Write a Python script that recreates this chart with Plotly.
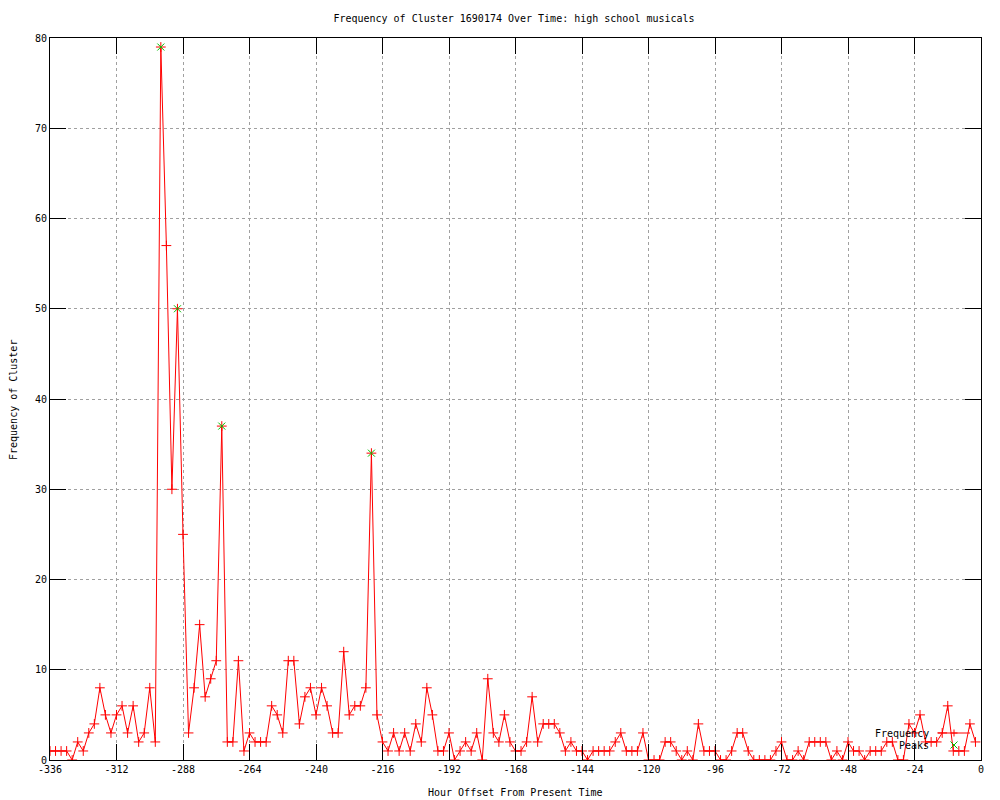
import plotly.graph_objects as go

# Hour offsets (every 2 hours) and cluster frequency values
hours = list(range(-336, 0, 2))
frequency = [
    1, 1, 1, 1, 0, 2, 1, 3, 4, 8,          # -336 .. -318
    5, 3, 5, 6, 3, 6, 2, 3, 8, 2,          # -316 .. -298
    79, 57, 30, 50, 25, 3, 8, 15, 7, 9,    # -296 .. -278
    11, 37, 2, 2, 11, 1, 3, 2, 2, 2,       # -276 .. -258
    6, 5, 3, 11, 11, 4, 7, 8, 5, 8,        # -256 .. -238
    6, 3, 3, 12, 5, 6, 6, 8, 34, 5,        # -236 .. -218
    2, 1, 3, 1, 3, 1, 4, 2, 8, 5,          # -216 .. -198
    1, 1, 3, 0, 1, 2, 1, 3, 0, 9,          # -196 .. -178
    3, 2, 5, 2, 1, 1, 2, 7, 2, 4,          # -176 .. -158
    4, 4, 3, 1, 2, 1, 1, 0, 1, 1,          # -156 .. -138
    1, 1, 2, 3, 1, 1, 1, 3, 0, 0,          # -136 .. -118
    0, 2, 2, 1, 0, 1, 0, 4, 1, 1,          # -116 .. -98
    1, 0, 0, 1, 3, 3, 1, 0, 0, 0,          # -96 .. -78
    0, 1, 2, 0, 0, 1, 0, 2, 2, 2,          # -76 .. -58
    2, 0, 1, 0, 2, 1, 1, 0, 1, 1,          # -56 .. -38
    1, 2, 2, 0, 0, 4, 3, 5, 2, 2,          # -36 .. -18
    2, 3, 6, 1, 1, 1, 4, 2,                # -16 .. -2
]

# Detected peaks
peak_hours = [-296, -290, -274, -220]
peak_values = [79, 50, 37, 34]

x_ticks = list(range(-336, 1, 24))
y_ticks = list(range(0, 81, 10))

title_text = "Frequency of Cluster 1690174 Over Time: high school musicals"
x_title = "Hour Offset From Present Time"
y_title = "Frequency of Cluster"

FONT = "DejaVu Sans Mono, Liberation Mono, monospace"
RED = "#ff0000"
GREEN = "#00c000"

# page body has an 8px margin; figure is sized so the plot lands where the reference has it
OFF = 8
W, H = 1000 - OFF, 800 - OFF
PL, PR, PT, PB = 50, 981, 38, 760          # plot-area edges in window pixels
pw, ph = PR - PL, PB - PT


def px(xw):
    return (xw - PL) / pw


def py(yw):
    return (PB - yw) / ph


fig = go.Figure()
fig.add_trace(go.Scatter(
    x=hours, y=frequency, mode="lines+markers", name="Frequency",
    line=dict(color=RED, width=1),
    marker=dict(symbol="cross-thin", size=7, color=RED, line=dict(color=RED, width=1)),
    showlegend=False,
))
fig.add_trace(go.Scatter(
    x=peak_hours, y=peak_values, mode="markers", name="Peaks",
    marker=dict(symbol="x-thin", size=7, color=GREEN, line=dict(color=GREEN, width=1)),
    showlegend=False,
))

axis_common = dict(
    showline=True, linecolor="black", linewidth=1, mirror="allticks",
    ticks="inside", ticklen=16, tickcolor="black", tickwidth=1,
    showgrid=True, gridcolor="#a0a0a0", griddash="dot", gridwidth=1,
    zeroline=False, tickfont=dict(family=FONT, size=10, color="black"),
)

fig.update_xaxes(range=[-336, 0], tickvals=x_ticks, ticktext=[str(v) for v in x_ticks], **axis_common)
fig.update_yaxes(range=[0, 80], tickvals=y_ticks, ticktext=[str(v) for v in y_ticks], **axis_common)

# Custom gnuplot-style key (text on the left, sample on the right)
shapes = []
leg_y1 = py(733)
leg_y2 = py(745)
lxm = px(954)
shapes.append(dict(type="line", xref="paper", yref="paper", x0=px(938), x1=px(970), y0=leg_y1, y1=leg_y1,
                   line=dict(color=RED, width=1)))
shapes.append(dict(type="line", xref="paper", yref="paper", xsizemode="pixel", ysizemode="pixel",
                   xanchor=lxm, yanchor=leg_y1, x0=-3.5, x1=3.5, y0=0, y1=0, line=dict(color=RED, width=1)))
shapes.append(dict(type="line", xref="paper", yref="paper", xsizemode="pixel", ysizemode="pixel",
                   xanchor=lxm, yanchor=leg_y1, x0=0, x1=0, y0=-3.5, y1=3.5, line=dict(color=RED, width=1)))
shapes.append(dict(type="line", xref="paper", yref="paper", xsizemode="pixel", ysizemode="pixel",
                   xanchor=lxm, yanchor=leg_y2, x0=-3.5, x1=3.5, y0=-3.5, y1=3.5, line=dict(color=GREEN, width=1)))
shapes.append(dict(type="line", xref="paper", yref="paper", xsizemode="pixel", ysizemode="pixel",
                   xanchor=lxm, yanchor=leg_y2, x0=-3.5, x1=3.5, y0=3.5, y1=-3.5, line=dict(color=GREEN, width=1)))

annotations = [
    dict(text="Frequency", xref="paper", yref="paper", x=px(931), y=leg_y1,
         xanchor="right", yanchor="middle", showarrow=False, font=dict(family=FONT, size=10, color="black")),
    dict(text="Peaks", xref="paper", yref="paper", x=px(931), y=leg_y2,
         xanchor="right", yanchor="middle", showarrow=False, font=dict(family=FONT, size=10, color="black")),
    dict(text=x_title, xref="paper", yref="paper", x=px(515), y=py(793),
         xanchor="center", yanchor="middle", showarrow=False, font=dict(family=FONT, size=10, color="black")),
    dict(text=y_title, xref="paper", yref="paper", x=px(13), y=py(400),
         xanchor="center", yanchor="middle", textangle=-90, showarrow=False,
         font=dict(family=FONT, size=10, color="black")),
]

fig.update_layout(
    width=W, height=H,
    margin=dict(l=PL - OFF, r=W - (PR - OFF), t=PT - OFF, b=H - (PB - OFF)),
    paper_bgcolor="white", plot_bgcolor="white",
    title=dict(text=title_text, x=px(514), xref="paper", xanchor="center",
               y=1 - (18 - OFF) / H, yanchor="middle", font=dict(family=FONT, size=10, color="black")),
    shapes=shapes, annotations=annotations,
    showlegend=False,
)

fig.write_html("out.html")
